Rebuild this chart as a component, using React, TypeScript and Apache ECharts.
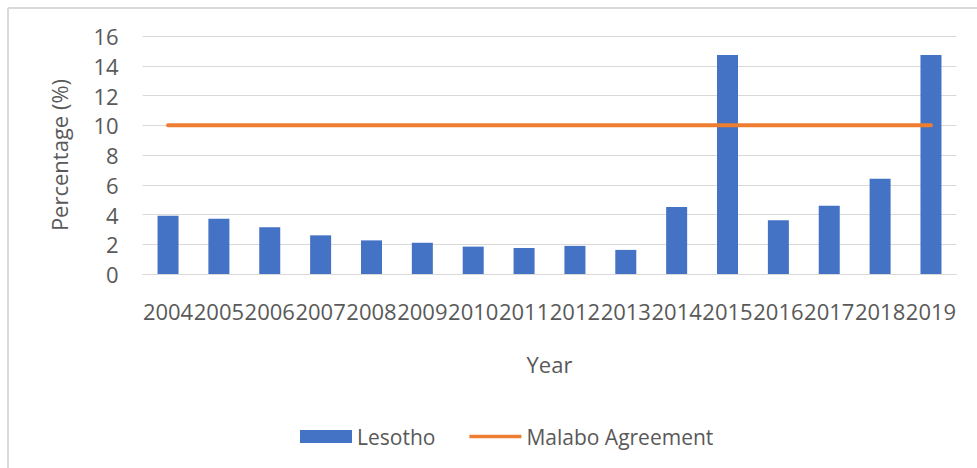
import React, { useEffect, useRef } from "react";
import * as echarts from "echarts";

const years = ["2004","2005","2006","2007","2008","2009","2010","2011","2012","2013","2014","2015","2016","2017","2018","2019"];
const lesotho = [3.92, 3.72, 3.14, 2.6, 2.26, 2.1, 1.84, 1.75, 1.89, 1.62, 4.5, 14.72, 3.62, 4.59, 6.41, 14.72];
const malabo = [10, 10, 10, 10, 10, 10, 10, 10, 10, 10, 10, 10, 10, 10, 10, 10];

const FONT = "'Open Sans', sans-serif";
const TXT = "#595959";

export default function App() {
  const ref = useRef<HTMLDivElement>(null);
  useEffect(() => {
    document.body.style.margin = "0";
    const chart = echarts.init(ref.current!, null, { renderer: "svg" });
    chart.setOption({
      animation: false,
      backgroundColor: "#ffffff",
      textStyle: { fontFamily: FONT },
      grid: { left: 142.6, right: 20.6, top: 36, bottom: 194, containLabel: false },
      graphic: [
        { type: "line", shape: { x1: 8, y1: 8, x2: 977, y2: 8 }, style: { stroke: "#d9d9d9", lineWidth: 2 } },
        { type: "line", shape: { x1: 8, y1: 8, x2: 8, y2: 468 }, style: { stroke: "#d9d9d9", lineWidth: 2 } },
      ],
      legend: {
        left: 295,
        top: 421,
        itemWidth: 52,
        itemHeight: 13,
        itemGap: 34,
        symbolKeepAspect: true,
        textStyle: { color: TXT, fontSize: 21, fontFamily: FONT },
        data: [
          { name: "Lesotho", icon: "path://M0,0H52V13H0Z" },
          { name: "Malabo Agreement", icon: "path://M0,0H52V3.5H0Z" },
        ],
      },
      xAxis: {
        type: "category",
        data: years,
        name: "Year",
        nameLocation: "middle",
        nameGap: 79,
        nameTextStyle: { color: TXT, fontSize: 22, fontFamily: FONT },
        axisLine: { lineStyle: { color: "#d9d9d9", width: 1 } },
        axisTick: { show: false },
        axisLabel: { color: TXT, fontSize: 22, fontFamily: FONT, margin: 26, interval: 0, hideOverlap: false },
      },
      yAxis: {
        type: "value",
        min: 0,
        max: 16,
        interval: 2,
        name: "Percentage (%)",
        nameLocation: "middle",
        nameGap: 73,
        nameTextStyle: { color: TXT, fontSize: 22, fontFamily: FONT },
        axisLine: { show: false },
        axisTick: { show: false },
        axisLabel: { color: TXT, fontSize: 22, fontFamily: FONT, margin: 24 },
        splitLine: { lineStyle: { color: "#d9d9d9", width: 1 } },
      },
      series: [
        {
          name: "Lesotho",
          type: "bar",
          data: lesotho,
          barWidth: 21,
          itemStyle: { color: "#4472C4" },
        },
        {
          name: "Malabo Agreement",
          type: "line",
          data: malabo,
          symbol: "none",
          lineStyle: { color: "#ED7D31", width: 4, cap: "round" },
          itemStyle: { color: "#ED7D31" },
        },
      ],
    });
    return () => chart.dispose();
  }, []);
  return <div ref={ref} style={{ width: 977, height: 468 }} />;
}
